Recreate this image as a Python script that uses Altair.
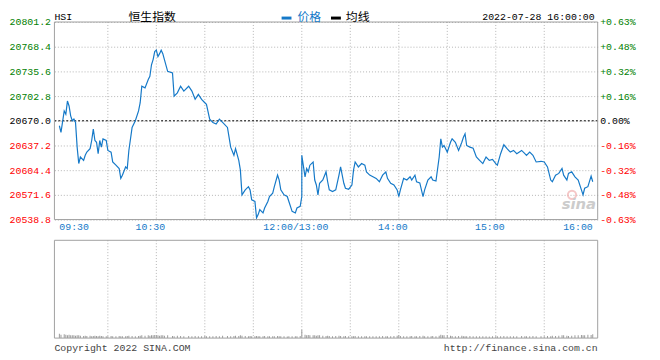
import altair as alt
import pandas as pd

PREV_CLOSE = 20670.0
SYMBOL = "HSI"
TITLE = "恒生指数"
STAMP = "2022-07-28 16:00:00"
LEGEND_PRICE = "价格"
LEGEND_AVG = "均线"
COPYRIGHT = "Copyright 2022 SINA.COM"
SITE = "http://finance.sina.com.cn"

times = [
    "09:30", "09:31", "09:33", "09:34", "09:35", "09:36", "09:37", "09:38", "09:39", "09:40",
    "09:41", "09:42", "09:43", "09:45", "09:46", "09:47", "09:49", "09:50", "09:51", "09:52",
    "09:53", "09:54", "09:55", "09:56", "09:57", "09:59", "10:00", "10:02", "10:03", "10:05",
    "10:07", "10:08", "10:09", "10:11", "10:12", "10:13", "10:15", "10:17", "10:19", "10:20",
    "10:21", "10:23", "10:25", "10:26", "10:27", "10:28", "10:29", "10:30", "10:31", "10:32",
    "10:33", "10:34", "10:35", "10:37", "10:40", "10:41", "10:43", "10:45", "10:47", "10:50",
    "10:52", "10:54", "10:56", "10:58", "11:00", "11:01", "11:03", "11:05", "11:07", "11:09",
    "11:11", "11:14", "11:16", "11:18", "11:19", "11:21", "11:22", "11:23", "11:25", "11:27",
    "11:28", "11:29", "11:31", "11:32", "11:33", "11:34", "11:36", "11:37", "11:39", "11:40",
    "11:42", "11:43", "11:45", "11:46", "11:47", "11:49", "11:51", "11:52", "11:54", "11:56",
    "11:57", "11:59", "12:00",
    "13:00", "13:02", "13:03", "13:04", "13:05", "13:07", "13:08", "13:09", "13:10", "13:11",
    "13:13", "13:15", "13:16", "13:17", "13:19", "13:21", "13:23", "13:24", "13:26", "13:27",
    "13:29", "13:31", "13:32", "13:33", "13:35", "13:37", "13:39", "13:40", "13:42", "13:44",
    "13:46", "13:48", "13:50", "13:52", "13:53", "13:55", "13:57", "13:59", "14:00", "14:01",
    "14:03", "14:05", "14:07", "14:08", "14:10", "14:11", "14:13", "14:15", "14:16", "14:18",
    "14:20", "14:21", "14:23", "14:25", "14:26", "14:27", "14:28", "14:30", "14:32", "14:33",
    "14:35", "14:37", "14:39", "14:40", "14:41", "14:42", "14:44", "14:46", "14:48", "14:50",
    "14:52", "14:54", "14:56", "14:58", "15:00", "15:01", "15:03", "15:05", "15:07", "15:09",
    "15:11", "15:13", "15:16", "15:18", "15:19", "15:21", "15:23", "15:25", "15:28", "15:30",
    "15:32", "15:34", "15:35", "15:37", "15:39", "15:41", "15:42", "15:44", "15:45", "15:47",
    "15:49", "15:51", "15:53", "15:54", "15:55", "15:57", "15:59", "16:00",
]

prices = [
    20663.4, 20654.6, 20683.1, 20678.8, 20696.2, 20689.7, 20676.6, 20670.0, 20672.2, 20667.8,
    20635.0, 20613.2, 20621.9, 20617.5, 20624.1, 20628.4, 20632.9, 20643.8, 20659.1, 20643.8,
    20641.5, 20626.3, 20643.8, 20635.0, 20646.0, 20643.8, 20630.6, 20628.4, 20615.3, 20611.0,
    20606.6, 20593.5, 20597.8, 20608.7, 20606.5, 20630.6, 20661.2, 20670.0, 20683.1, 20694.0,
    20715.9, 20713.7, 20724.7, 20729.0, 20744.4, 20751.3, 20761.8, 20763.8, 20755.3, 20759.2,
    20763.8, 20759.2, 20751.3, 20735.6, 20733.4, 20702.8, 20707.1, 20715.9, 20709.4, 20715.9,
    20709.4, 20698.5, 20705.0, 20698.5, 20694.0, 20691.9, 20672.2, 20667.8, 20665.7, 20672.2,
    20667.8, 20661.2, 20635.0, 20624.1, 20632.9, 20617.5, 20604.4, 20571.6, 20578.2, 20582.5,
    20578.2, 20565.0, 20562.8, 20541.0, 20545.4, 20551.9, 20547.6, 20554.2, 20562.8, 20569.4,
    20573.8, 20582.5, 20597.8, 20591.3, 20578.2, 20571.6, 20569.4, 20562.8, 20549.7, 20547.6,
    20554.2, 20556.3, 20569.4,
    20624.1, 20595.6, 20606.6, 20602.2, 20611.0, 20615.3, 20591.3, 20584.7, 20571.6, 20587.0,
    20591.3, 20602.2, 20589.0, 20578.2, 20575.9, 20578.2, 20597.8, 20608.7, 20587.0, 20580.4,
    20579.1, 20584.7, 20604.4, 20615.3, 20608.7, 20613.2, 20611.0, 20602.2, 20597.8, 20595.6,
    20593.5, 20589.0, 20597.8, 20602.2, 20593.5, 20587.0, 20584.7, 20578.2, 20569.4, 20578.2,
    20593.5, 20591.3, 20595.6, 20591.3, 20597.8, 20589.0, 20587.5, 20569.4, 20578.2, 20591.3,
    20595.6, 20591.3, 20590.0, 20621.9, 20646.0, 20635.0, 20637.2, 20628.4, 20641.5, 20646.0,
    20641.5, 20630.6, 20641.5, 20648.1, 20652.6, 20637.2, 20635.0, 20633.5, 20621.9, 20617.5,
    20613.2, 20621.9, 20617.5, 20618.6, 20613.2, 20611.0, 20626.3, 20638.1, 20632.9, 20628.4,
    20630.6, 20626.3, 20630.6, 20626.3, 20624.1, 20628.4, 20624.1, 20615.3, 20616.2, 20615.3,
    20608.7, 20591.3, 20589.0, 20597.8, 20600.1, 20606.6, 20597.8, 20591.3, 20600.1, 20602.2,
    20595.6, 20591.3, 20578.2, 20571.6, 20580.4, 20582.5, 20596.5, 20589.0,
]

volumes = [
    45, 35, 40, 35, 30, 35, 30, 30, 28, 25,
    30, 28, 25, 22, 25, 22, 25, 20, 22, 25,
    22, 20, 25, 22, 20, 18, 20, 22, 20, 18,
    22, 20, 18, 20, 22, 25, 22, 20, 22, 25,
    28, 25, 30, 25, 28, 30, 32, 28, 30, 25,
    28, 30, 25, 28, 22, 20, 25, 22, 20, 22,
    20, 22, 18, 20, 22, 18, 20, 18, 22, 20,
    25, 22, 20, 22, 25, 22, 28, 25, 22, 20,
    22, 20, 18, 22, 20, 18, 20, 22, 18, 20,
    18, 20, 22, 18, 20, 18, 16, 18, 20, 18,
    20, 22, 25,
    60, 35, 30, 32, 28, 30, 28, 25, 30, 28,
    25, 22, 25, 22, 20, 22, 25, 22, 20, 22,
    20, 18, 20, 22, 18, 20, 18, 20, 18, 20,
    18, 20, 22, 18, 20, 18, 22, 25, 28, 22,
    20, 18, 20, 22, 18, 20, 22, 25, 20, 18,
    20, 22, 20, 25, 35, 30, 28, 30, 25, 22,
    20, 22, 25, 20, 18, 20, 22, 18, 20, 18,
    20, 18, 16, 18, 20, 18, 20, 22, 20, 18,
    20, 18, 22, 20, 18, 20, 22, 20, 18, 20,
    22, 20, 25, 22, 25, 28, 30, 25, 22, 25,
    28, 30, 32, 28, 30, 35, 32, 38,
]

y_ticks = [20538.8, 20571.6, 20604.4, 20637.2, 20670.0, 20702.8, 20735.6, 20768.4, 20801.2]
x_ticks = [0, 60, 150, 210, 270, 330]
x_tick_labels = ["09:30", "10:30", "12:00/13:00", "14:00", "15:00", "16:00"]
grid_x = [30, 60, 90, 120, 150, 180, 210, 240, 270, 300]


def trade_index(t):
    h, m = (int(v) for v in t.split(":"))
    mins = h * 60 + m
    if mins <= 12 * 60:
        return mins - (9 * 60 + 30)
    return 150 + mins - 13 * 60


df = pd.DataFrame({"time": times, "price": prices, "volume": volumes})
df["idx"] = [trade_index(t) for t in times]
df["seq"] = list(range(len(df)))

MONO = "Liberation Mono"
CJK = "Noto Sans CJK SC"
BLUE = "#1579c8"
GRID = "#b4b4b4"
FRAME = "#a0a0a0"
TEXT_GRAY = "#444444"

W, H_TOP, V_TOP, H_ALL = 550, 200, 221, 320
HDR_Y = -5.5

x_scale = alt.Scale(domain=[0, 330], nice=False, zero=False)
price_scale = alt.Scale(domain=[y_ticks[0], y_ticks[-1]], range=[H_TOP, 0], nice=False, zero=False)
vol_scale = alt.Scale(domain=[0, 1000], range=[H_ALL, V_TOP], nice=False)

label_color = {
    "condition": [
        {"test": f"datum.value > {PREV_CLOSE + 0.05}", "value": "#008000"},
        {"test": f"datum.value < {PREV_CLOSE - 0.05}", "value": "#ff0000"},
    ],
    "value": "#000000",
}

left_axis = alt.Axis(
    values=y_ticks, format=".1f", orient="left", title=None,
    domain=False, ticks=False, grid=True, gridColor=GRID, gridDash=[1, 2],
    labelFont=MONO, labelFontSize=10, labelPadding=4, labelColor=label_color,
    labelOverlap=False, labelBaseline="middle",
)

pct_expr = (
    f"(datum.value > {PREV_CLOSE + 0.05} ? '+' : (datum.value < {PREV_CLOSE - 0.05} ? '-' : '')) + "
    f"format(abs(datum.value - {PREV_CLOSE}) / {PREV_CLOSE} * 100, '.2f') + '%'"
)
right_axis = alt.Axis(
    values=y_ticks, labelExpr=pct_expr, orient="right", title=None,
    domain=False, ticks=False, grid=False,
    labelFont=MONO, labelFontSize=10, labelPadding=2, labelColor=label_color,
    labelOverlap=False, labelBaseline="middle",
)

grid_df = pd.DataFrame({"g": grid_x})
one = pd.DataFrame({"k": [0]})
xl_df = pd.DataFrame({"pos": x_ticks, "lab": x_tick_labels})

grid_top = alt.Chart(grid_df).mark_rule(color=GRID, strokeDash=[1, 2]).encode(
    x=alt.X("g:Q", scale=x_scale, axis=None), y=alt.value(0), y2=alt.value(H_TOP)
)
grid_bot = alt.Chart(grid_df).mark_rule(color=GRID, strokeDash=[1, 2]).encode(
    x=alt.X("g:Q", scale=x_scale, axis=None), y=alt.value(V_TOP), y2=alt.value(H_ALL)
)

prev_line = alt.Chart(pd.DataFrame({"p": [PREV_CLOSE]})).mark_rule(
    color="#000000", strokeDash=[2, 2], strokeWidth=1
).encode(y=alt.Y("p:Q", scale=price_scale, axis=None))

price_line = alt.Chart(df).mark_line(color=BLUE, strokeWidth=1.2).encode(
    x=alt.X("idx:Q", scale=x_scale, axis=None),
    y=alt.Y("price:Q", scale=price_scale, axis=left_axis),
    order=alt.Order("seq:Q"),
)

pct_layer = alt.Chart(df).mark_line(opacity=0).encode(
    x=alt.X("idx:Q", scale=x_scale, axis=None),
    y=alt.Y("price:Q", scale=price_scale, axis=right_axis),
    order=alt.Order("seq:Q"),
)

vol_bars = alt.Chart(df).mark_bar(color="#9a9a9a", size=1).encode(
    x=alt.X("idx:Q", scale=x_scale, axis=None),
    y=alt.Y("volume:Q", scale=vol_scale, axis=None),
)

frame_top = alt.Chart(one).mark_rect(fillOpacity=0, stroke=FRAME, strokeWidth=1).encode(
    x=alt.value(0), x2=alt.value(W), y=alt.value(0), y2=alt.value(H_TOP)
)
frame_bot = alt.Chart(one).mark_rect(fillOpacity=0, stroke=FRAME, strokeWidth=1).encode(
    x=alt.value(0), x2=alt.value(W), y=alt.value(V_TOP), y2=alt.value(H_ALL)
)


def xlabels(sub, align, dx):
    return alt.Chart(sub).mark_text(
        align=align, baseline="middle", dx=dx, font=MONO, fontSize=10, color=BLUE
    ).encode(
        x=alt.X("pos:Q", scale=x_scale, axis=None), y=alt.value(H_TOP + 8), text="lab:N"
    )


xl_first = xlabels(xl_df.iloc[:1], "left", 0)
xl_mid = xlabels(xl_df.iloc[1:-1], "center", -6)
xl_last = xlabels(xl_df.iloc[-1:], "right", 0)


def text_at(txt, x, y, **kw):
    return alt.Chart(pd.DataFrame({"t": [txt]})).mark_text(baseline="middle", **kw).encode(
        x=alt.value(x), y=alt.value(y), text="t:N"
    )


hdr_sym = text_at(SYMBOL, 0, HDR_Y, align="left", font=MONO, fontSize=10, color="#000000")
hdr_title = text_at(TITLE, 99, HDR_Y, align="center", font=CJK, fontSize=12, color="#000000")
leg_dash1 = alt.Chart(one).mark_rule(color=BLUE, strokeWidth=3).encode(
    x=alt.value(230), x2=alt.value(240), y=alt.value(HDR_Y + 1.5)
)
leg_txt1 = text_at(LEGEND_PRICE, 246, HDR_Y, align="left", font=CJK, fontSize=12, color=BLUE)
leg_dash2 = alt.Chart(one).mark_rule(color="#000000", strokeWidth=3).encode(
    x=alt.value(280), x2=alt.value(290), y=alt.value(HDR_Y + 1.5)
)
leg_txt2 = text_at(LEGEND_AVG, 295, HDR_Y, align="left", font=CJK, fontSize=12, color="#000000")
hdr_stamp = text_at(STAMP, 547, HDR_Y, align="right", font=MONO, fontSize=10, color="#000000")
foot_l = text_at(COPYRIGHT, 0, 330, align="left", font=MONO, fontSize=10, color=TEXT_GRAY)
foot_r = text_at(SITE, W, 330, align="right", font=MONO, fontSize=10, color=TEXT_GRAY)

wm_eye = alt.Chart(one).mark_point(shape="circle", filled=False, color="#f2b0b0", size=70, strokeWidth=2).encode(
    x=alt.value(524), y=alt.value(175)
)
wm_txt = text_at("sina", 531, 184, align="center", font="DejaVu Sans", fontSize=15,
                 fontStyle="italic", fontWeight="bold", color="#cccccc")

chart = alt.layer(
    grid_top, grid_bot, prev_line, wm_eye, wm_txt, price_line, pct_layer, vol_bars,
    frame_top, frame_bot, xl_first, xl_mid, xl_last,
    hdr_sym, hdr_title, leg_dash1, leg_txt1, leg_dash2, leg_txt2,
    hdr_stamp, foot_l, foot_r,
).resolve_scale(y="independent").properties(
    width=W, height=H_ALL,
    autosize=alt.AutoSizeParams(type="none"),
    padding={"left": 47, "top": 12, "right": 55, "bottom": 20},
    background="#ffffff",
).configure_view(stroke=None)

chart.save("out.html", embed_options={"renderer": "svg", "actions": False})
